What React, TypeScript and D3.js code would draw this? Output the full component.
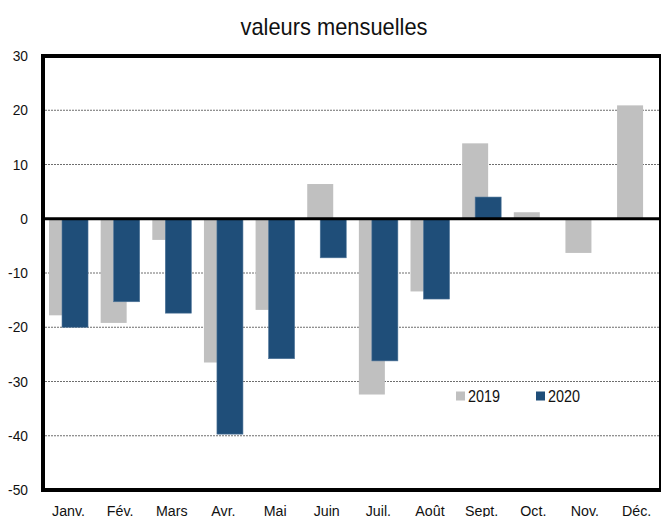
import React from "react";
import * as d3 from "d3";

const months = ["Janv.", "Fév.", "Mars", "Avr.", "Mai", "Juin", "Juil.", "Août", "Sept.", "Oct.", "Nov.", "Déc."];
const values2019 = [-17.8, -19.2, -3.9, -26.5, -16.8, 6.4, -32.4, -13.4, 13.9, 1.2, -6.3, 20.9];
const values2020: (number | null)[] = [-20.0, -15.3, -17.4, -39.7, -25.8, -7.2, -26.2, -14.8, 4.0, null, null, null];
const yTicks = [30, 20, 10, 0, -10, -20, -30, -40, -50];
const seriesNames = ["2019", "2020"];

const W = 661;
const H = 517;
const FONT = "'Liberation Sans Narrow', 'Arial Narrow', 'Liberation Sans', Arial, sans-serif";
const GRAY = "#c0c0c0";
const BLUE = "#1f4e79";

export default function App() {
  const left = 43, right = 660, top = 56, bottom = 490;
  const x = d3.scaleBand<string>().domain(months).range([42.7, 662.4]).padding(0);
  const y = d3.scaleLinear().domain([-50, 30]).range([bottom, top]);
  const bw = 26;
  const off = 6.5;
  const cx = (m: string) => (x(m) as number) + x.bandwidth() / 2;

  return (
    <svg width={W} height={H} style={{ position: "absolute", left: 0, top: 0 }}>
      <rect x={0} y={0} width={W} height={H} fill="#fff" />
      <g transform="translate(334,35) scale(0.95,1)">
        <text x={0} y={0} textAnchor="middle" fontFamily={FONT} fontSize={23} fill="#111">
          valeurs mensuelles
        </text>
      </g>
      {yTicks.filter((t) => t !== 30 && t !== -50 && t !== 0).map((t) => (
        <line key={"g" + t} x1={left + 2} x2={right} y1={y(t)} y2={y(t)} stroke="#6e6e6e" strokeWidth={1} strokeDasharray="2,1" />
      ))}
      {months.map((m, i) => {
        const v = values2019[i];
        return (
          <rect key={"a" + m} x={cx(m) - off - bw / 2} width={bw} y={y(Math.max(0, v))} height={Math.abs(y(v) - y(0))} fill={GRAY} />
        );
      })}
      {months.map((m, i) => {
        const v = values2020[i];
        if (v === null) return null;
        return (
          <rect key={"b" + m} x={cx(m) + off - bw / 2} width={bw} y={y(Math.max(0, v))} height={Math.abs(y(v) - y(0))} fill={BLUE} stroke="#4f7599" strokeWidth={0.6} />
        );
      })}
      <line x1={left} x2={right} y1={y(0)} y2={y(0)} stroke="#000" strokeWidth={3} />
      <line x1={left} x2={right + 1} y1={top} y2={top} stroke="#000" strokeWidth={4} />
      <line x1={left} x2={right + 1} y1={bottom} y2={bottom} stroke="#000" strokeWidth={4} />
      <line x1={left} x2={left} y1={top - 2} y2={bottom + 2} stroke="#000" strokeWidth={4} />
      <line x1={right} x2={right} y1={top} y2={bottom} stroke="#000" strokeWidth={2} />
      {yTicks.map((t) => (
        <g key={"t" + t} transform={`translate(28,${y(t) + 5}) scale(0.92,1)`}>
          <text x={0} y={0} textAnchor="end" fontFamily={FONT} fontSize={15} fill="#111">
            {t}
          </text>
        </g>
      ))}
      {months.map((m) => (
        <g key={"l" + m} transform={`translate(${cx(m)},515.5) scale(0.95,1)`}>
          <text x={0} y={0} textAnchor="middle" fontFamily={FONT} fontSize={15} fill="#111">
            {m}
          </text>
        </g>
      ))}
      {seriesNames.map((s, i) => (
        <g key={s} transform={`translate(${456 + i * 80},391.5)`}>
          <rect x={0} y={0} width={9} height={9} fill={i === 0 ? GRAY : BLUE} />
          <g transform="translate(12,10.5) scale(0.9,1)">
            <text x={0} y={0} fontFamily={FONT} fontSize={16} fill="#111">
              {s}
            </text>
          </g>
        </g>
      ))}
    </svg>
  );
}
